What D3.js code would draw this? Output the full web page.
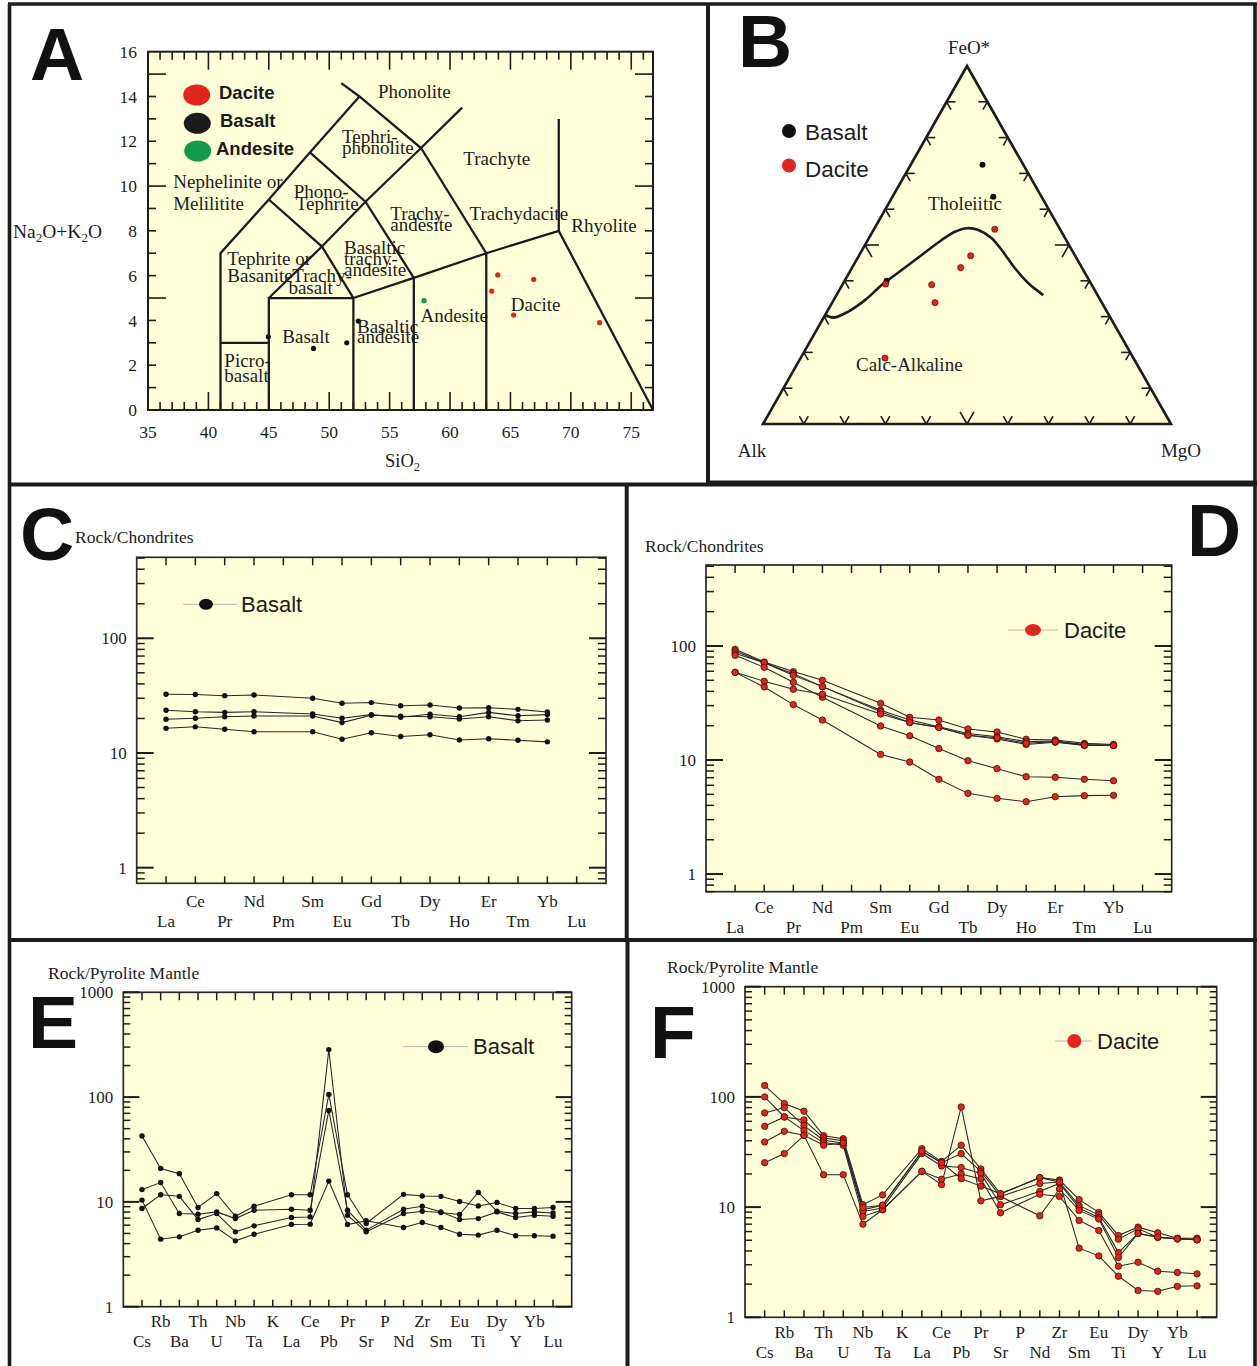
<!DOCTYPE html>
<html><head><meta charset="utf-8">
<script src="https://cdn.jsdelivr.net/npm/d3@7"></script>
<style>body{margin:0;background:#fff}svg{display:block}</style>
</head><body>
<svg id="c" width="1257" height="1366"></svg>
<script>
// ---------------- DATA ----------------
// Panel A: TAS (SiO2, Na2O+K2O)
const tasDacite = [[63.95,6.03],[66.92,5.83],[63.45,5.31],[65.26,4.24],[72.38,3.90]];
const tasBasalt = [[44.96,3.27],[48.70,2.75],[51.45,3.00],[52.41,3.97]];
const tasAndesite = [[57.85,4.88]];
const tasXTicks = [35,40,45,50,55,60,65,70,75];
const tasYTicks = [0,2,4,6,8,10,12,14,16];
const tasLines = [
  [[41,0],[41,7],[45,9.4],[48.4,11.5],[52.5,14]],
  [[51.0,14.6],[52.5,14],[57.6,11.7],[63,7],[63,0]],
  [[57.6,11.7],[61,13.5]],
  [[41,3],[45,3]],
  [[45,0],[45,5],[52,5],[52,0]],
  [[45,5],[49.4,7.3],[53,9.3],[57.6,11.7]],
  [[45,9.4],[49.4,7.3],[52,5]],
  [[48.4,11.5],[53,9.3],[57,5.9]],
  [[52,5],[57,5.9],[63,7],[69,8],[76.8,0]],
  [[57,5.9],[57,0]],
  [[69,8],[69,13]]
];
const tasFieldNames = [
  ["Phonolite",54.03,14.24],["Tephri-",51.06,12.20],["phonolite",51.06,11.74],
  ["Trachyte",61.10,11.25],["Nephelinite or",37.10,10.22],["Melilitite",37.08,9.25],
  ["Phono-",47.06,9.75],["Tephrite",47.23,9.25],["Trachy-",55.05,8.79],["andesite",55.05,8.30],
  ["Trachydacite",61.62,8.79],["Rhyolite",70.03,8.26],["Basaltic",51.22,7.28],
  ["trachy-",51.22,6.79],["andesite",51.22,6.29],["Tephrite or",41.57,6.79],["Basanite",41.57,6.03],
  ["Trachy-",46.95,6.03],["basalt",46.62,5.49],["Dacite",65.03,4.73],["Andesite",57.55,4.24],
  ["Basaltic",52.30,3.75],["andesite",52.30,3.30],["Basalt",46.12,3.27],["Picro-",41.32,2.23],["basalt",41.32,1.56]
];
// Panel B: AFM (Alk, FeO*, MgO) in %
const afmBasalt = [[10.0,72.4,17.6],[11.8,63.5,24.7],[49.7,40.0,10.3]];
const afmDacite = [[16.0,54.4,29.6],[25.6,47.0,27.4],[29.7,43.7,26.6],[39.2,38.9,21.9],[40.9,33.9,25.2],[50.4,39.1,10.5],[60.9,18.4,20.7]];
const afmBoundary = [[69.4,30.6,0],[68.0,29.7,2.3],[63.4,31.4,5.2],[57.7,34.6,7.7],[51.5,38.8,9.7],[44.5,43.0,12.5],[37.5,47.2,15.3],[30.5,51.4,18.1],[26.1,53.7,20.2],[22.7,54.7,22.6],[20.1,54.2,25.7],[18.0,51.9,30.1],[17.2,48.6,34.2],[16.5,43.5,40.0],[15.3,39.3,45.4],[13.3,36.0,50.7]];
// Panels C, D: chondrite-normalised REE
const reeCats = ['La','Ce','Pr','Nd','Pm','Sm','Eu','Gd','Tb','Dy','Ho','Er','Tm','Yb','Lu'];
const basaltREE1 = [32.5,32.3,31.6,32.0,null,30.0,27.1,27.5,25.8,26.2,24.7,24.8,24.0,22.8,null];
const basaltREE2 = [23.6,22.9,22.6,22.9,null,21.9,20.1,21.6,20.5,21.8,20.7,22.6,21.1,21.6,null];
const basaltREE3 = [19.7,20.1,20.7,21.0,null,21.0,18.4,21.3,20.9,20.7,19.8,20.7,19.1,19.4,null];
const basaltREE4 = [16.4,16.9,16.1,15.3,null,15.3,13.2,15.0,13.9,14.4,13.0,13.3,12.9,12.5,null];
const daciteREE1 = [93.5,72.4,59.6,50.0,null,31.4,23.7,22.4,18.7,17.6,15.2,15.0,14.0,13.7,null];
const daciteREE2 = [90.4,71.4,57.2,44.0,null,27.3,22.4,19.6,17.1,16.0,14.5,14.7,13.7,13.5,null];
const daciteREE3 = [86.2,71.4,55.3,44.0,null,26.5,21.3,19.3,16.5,15.3,13.7,14.3,13.4,13.4,null];
const daciteREE4 = [82.8,65.0,48.0,35.5,null,19.9,16.3,12.6,9.87,8.4,7.14,7.05,6.77,6.59,null];
const daciteREE5 = [58.7,49.0,41.7,37.7,null,25.3,21.3,19.3,16.5,15.7,14.0,14.5,13.5,13.4,null];
const daciteREE6 = [58.7,43.7,30.6,22.4,null,11.2,9.6,6.77,5.10,4.61,4.31,4.77,4.87,4.90,null];
// Panels E, F: pyrolite-mantle normalised spidergrams
const spiderCats = ['Cs','Rb','Ba','Th','U','Nb','Ta','K','La','Ce','Pb','Pr','Sr','P','Nd','Zr','Sm','Eu','Ti','Dy','Y','Yb','Lu'];
const basaltPM1 = [42.5,20.8,18.6,8.84,12.0,7.30,9.10,null,11.7,11.7,106,11.7,6.22,null,11.8,11.4,11.3,10.1,9.16,9.86,8.65,8.65,8.84];
const basaltPM2 = [13.1,15.3,7.74,7.63,8.03,6.93,8.33,null,8.51,8.33,74.6,8.33,5.37,null,8.51,9.10,8.03,6.79,6.93,8.03,7.09,7.46,7.30];
const basaltPM3 = [8.65,11.7,11.3,6.79,7.74,5.18,5.91,null,7.09,7.19,284,7.46,5.18,null,7.74,8.15,7.91,7.57,12.3,8.15,7.74,8.03,7.85];
const basaltPM4 = [10.4,4.41,4.64,5.37,5.65,4.25,4.92,null,6.08,6.13,15.8,6.08,6.60,null,5.70,6.36,5.70,4.92,4.82,5.37,4.75,4.75,4.71];
const dacitePM1 = [127,87.0,74.1,44.5,41.8,10.5,12.9,null,33.9,26.0,36.4,22.2,13.2,null,18.5,17.6,11.7,8.95,5.52,6.58,5.85,5.22,5.22];
const dacitePM2 = [100,65.8,61.8,42.4,40.1,9.46,10.4,null,32.1,25.3,30.6,21.1,12.5,null,16.4,16.9,10.3,8.51,5.12,6.35,5.33,5.15,5.05];
const dacitePM3 = [71.6,80.0,54.9,40.4,38.2,9.14,9.79,null,30.6,23.6,22.9,20.2,10.5,null,13.9,16.4,9.79,8.06,3.87,5.77,5.33,5.15,5.05];
const dacitePM4 = [54.1,65.8,49.4,38.5,36.4,8.23,9.46,null,21.1,16.0,81.1,11.4,12.5,null,8.34,14.6,9.33,7.79,3.49,5.77,5.33,5.15,5.05];
const dacitePM5 = [39.0,48.7,44.8,19.7,19.7,7.00,9.46,null,21.1,17.9,20.0,18.0,8.88,null,13.1,12.5,7.57,6.14,2.91,3.16,2.62,2.55,2.48];
const dacitePM6 = [25.3,30.6,44.8,36.4,38.2,9.93,10.4,null,32.1,25.3,18.1,15.5,13.2,null,18.5,16.9,4.24,3.61,2.36,1.75,1.72,1.91,1.93];

// ---------------- DRAWING ----------------
const svg = d3.select('#c');
const SERIF = '"Liberation Serif","Times New Roman",serif';
const SANS = '"Liberation Sans",Arial,sans-serif';
const INK = '#1c1c1c';
const BG = '#FFFFDA';
const RED = '#e1251d';
const GREEN = '#13994a';

function txt(g, x, yc, s, fs, o = {}) {
  return g.append('text').attr('x', x).attr('y', yc + fs * 0.35).text(s)
    .attr('font-family', o.ff || SERIF).attr('font-size', fs)
    .attr('text-anchor', o.anchor || 'start').attr('font-weight', o.fw || 'normal')
    .attr('fill', o.fill || INK);
}
function ln(g, x1, y1, x2, y2, w = 1.5, c = INK) {
  return g.append('line').attr('x1', x1).attr('y1', y1).attr('x2', x2).attr('y2', y2)
    .attr('stroke', c).attr('stroke-width', w);
}

// ===== Panel A =====
(function () {
  const g = svg.append('g');
  const x = d3.scaleLinear().domain([35, 76.8]).range([148, 653]);
  const y = d3.scaleLinear().domain([0, 16]).range([410, 51.7]);
  const [x0, x1] = x.range(), [y1, y0] = y.range();
  g.append('rect').attr('x', x0).attr('y', y0).attr('width', x1 - x0).attr('height', y1 - y0)
    .attr('fill', BG);
  for (let v = 36; v <= 76; v++) {
    const L = v % 5 === 0 ? 18 : 8;
    ln(g, x(v), y0, x(v), y0 + L, 1.6); ln(g, x(v), y1, x(v), y1 - L, 1.6);
  }
  for (let v = 1; v <= 15; v++) {
    const L = v % 5 === 0 ? 18 : 8;
    ln(g, x0, y(v), x0 + L, y(v), 1.6); ln(g, x1, y(v), x1 - L, y(v), 1.6);
  }
  const line = d3.line().x(d => x(d[0])).y(d => y(d[1]));
  tasLines.forEach(l => g.append('path').attr('d', line(l)).attr('fill', 'none')
    .attr('stroke', INK).attr('stroke-width', 2.3).attr('stroke-linejoin', 'miter'));
  g.append('rect').attr('x', x0).attr('y', y0).attr('width', x1 - x0).attr('height', y1 - y0)
    .attr('fill', 'none').attr('stroke', INK).attr('stroke-width', 2);
  tasFieldNames.forEach(([s, a, b]) => txt(g, x(a), y(b), s, 19));
  tasXTicks.forEach(v => txt(g, x(v), 432, String(v), 17.5, { anchor: 'middle' }));
  tasYTicks.forEach(v => txt(g, 137, y(v), String(v), 17.5, { anchor: 'end' }));
  // axis titles
  const t1 = g.append('text').attr('x', 13).attr('y', 238).attr('font-family', SERIF)
    .attr('font-size', 19.5).attr('fill', INK);
  t1.append('tspan').text('Na');
  t1.append('tspan').text('2').attr('font-size', 13).attr('dy', 4);
  t1.append('tspan').text('O+K').attr('dy', -4);
  t1.append('tspan').text('2').attr('font-size', 13).attr('dy', 4);
  t1.append('tspan').text('O').attr('dy', -4);
  const t2 = g.append('text').attr('x', 385).attr('y', 467).attr('font-family', SERIF)
    .attr('font-size', 18.5).attr('fill', INK);
  t2.append('tspan').text('SiO');
  t2.append('tspan').text('2').attr('font-size', 12.5).attr('dy', 4);
  // points
  const pts = (arr, col) => g.selectAll(null).data(arr).enter().append('circle')
    .attr('cx', d => x(d[0])).attr('cy', d => y(d[1])).attr('r', 2.6).attr('fill', col);
  pts(tasBasalt, '#111'); pts(tasAndesite, GREEN); pts(tasDacite, RED);
  // legend
  const leg = [['Dacite', RED, 196.7, 95, 219], ['Basalt', '#1a1a1a', 197.3, 123.3, 220], ['Andesite', GREEN, 197.7, 151, 216]];
  leg.forEach(([s, c, cx, cy, tx]) => {
    g.append('ellipse').attr('cx', cx).attr('cy', cy).attr('rx', 13.5).attr('ry', 10.5).attr('fill', c);
    txt(g, tx, cy - 2.5, s, 18.5, { ff: SANS, fw: 'bold' });
  });
})();

// ===== Panel B =====
(function () {
  const g = svg.append('g');
  const T = [967, 66], BL = [763, 424], BR = [1171, 424];
  const P = d => [(d[0] * BL[0] + d[1] * T[0] + d[2] * BR[0]) / 100, (d[0] * BL[1] + d[1] * T[1] + d[2] * BR[1]) / 100];
  g.append('path').attr('d', d3.line()([T, BL, BR]) + 'Z').attr('fill', BG)
    .attr('stroke', INK).attr('stroke-width', 2.6).attr('stroke-linejoin', 'miter');
  // tick chevrons at 10% steps
  const norm = (v) => { const l = Math.hypot(v[0], v[1]); return [v[0] / l, v[1] / l]; };
  const dR = norm([BR[0] - T[0], BR[1] - T[1]]);
  const dL = norm([BL[0] - T[0], BL[1] - T[1]]);
  const edges = [
    { a: T, b: BL, dirs: [[1, 0], dR] },
    { a: T, b: BR, dirs: [[-1, 0], dL] },
    { a: BL, b: BR, dirs: [[-dL[0], -dL[1]], [-dR[0], -dR[1]]] }
  ];
  edges.forEach(e => {
    for (let k = 1; k <= 9; k++) {
      const px = e.a[0] + (e.b[0] - e.a[0]) * k / 10, py = e.a[1] + (e.b[1] - e.a[1]) * k / 10;
      const L = k === 5 ? 14 : 9;
      e.dirs.forEach(dv => ln(g, px, py, px + dv[0] * L, py + dv[1] * L, 1.6));
    }
  });
  g.append('path').attr('d', d3.line().curve(d3.curveCatmullRom)(afmBoundary.map(P)))
    .attr('fill', 'none').attr('stroke', INK).attr('stroke-width', 2.6);
  g.selectAll(null).data(afmBasalt).enter().append('circle')
    .attr('cx', d => P(d)[0]).attr('cy', d => P(d)[1]).attr('r', 3).attr('fill', '#111');
  g.selectAll(null).data(afmDacite).enter().append('circle')
    .attr('cx', d => P(d)[0]).attr('cy', d => P(d)[1]).attr('r', 3.1).attr('fill', RED)
    .attr('stroke', '#5a0a06').attr('stroke-width', 0.7);
  txt(g, 969, 47, 'FeO*', 19, { anchor: 'middle' });
  txt(g, 752, 450, 'Alk', 19, { anchor: 'middle' });
  txt(g, 1181, 450, 'MgO', 19, { anchor: 'middle' });
  txt(g, 928, 203, 'Tholeiitic', 19);
  txt(g, 856, 364, 'Calc-Alkaline', 19);
  g.append('circle').attr('cx', 789).attr('cy', 131).attr('r', 7).attr('fill', '#111');
  txt(g, 805, 132, 'Basalt', 22.5, { ff: SANS });
  g.append('circle').attr('cx', 789).attr('cy', 165.5).attr('r', 7).attr('fill', RED);
  txt(g, 805, 169, 'Dacite', 22.5, { ff: SANS });
})();

// ===== Spider / REE panels =====
function spider(o) {
  const g = svg.append('g');
  const x = d3.scaleLinear().domain([-1, o.cats.length]).range([o.x0, o.x1]);
  const y = d3.scaleLog().domain(o.domain).range([o.y1, o.y0]);
  g.append('rect').attr('x', o.x0).attr('y', o.y0).attr('width', o.x1 - o.x0).attr('height', o.y1 - o.y0)
    .attr('fill', BG).attr('stroke', '#2a2a2a').attr('stroke-width', 1.7);
  const [lo, hi] = o.domain;
  for (let e = Math.floor(Math.log10(lo)); e <= Math.ceil(Math.log10(hi)); e++) {
    for (let m = 1; m <= 9; m++) {
      const v = m * Math.pow(10, e);
      if (v < lo || v > hi) continue;
      const L = m === 1 ? o.major : o.minor, w = m === 1 ? 2 : 1.5;
      ln(g, o.x0, y(v), o.x0 + L, y(v), w); ln(g, o.x1, y(v), o.x1 - L, y(v), w);
    }
  }
  o.yLabels.forEach(v => txt(g, o.x0 - 10, y(v), String(v), 17, { anchor: 'end' }));
  o.cats.forEach((c, i) => {
    ln(g, x(i), o.y0, x(i), o.y0 + 8, 1.5); ln(g, x(i), o.y1, x(i), o.y1 - 7, 1.5);
    txt(g, x(i), i % 2 ? o.row1 : o.row2, c, 17, { anchor: 'middle' });
  });
  txt(g, o.title[1], o.title[2], o.title[0], 17.5);
  const line = d3.line().x(d => x(d[0])).y(d => y(d[1]));
  const pts = o.series.map(s => s.map((v, i) => [i, v]).filter(d => d[1] != null));
  pts.forEach(p => g.append('path').attr('d', line(p)).attr('fill', 'none')
    .attr('stroke', '#262626').attr('stroke-width', 1.05));
  pts.forEach(p => g.selectAll(null).data(p).enter().append('circle')
    .attr('cx', d => x(d[0])).attr('cy', d => y(d[1])).attr('r', o.r).attr('fill', o.color)
    .attr('stroke', o.stroke || 'none').attr('stroke-width', 0.8));
  const L = o.legend;
  ln(g, L.l0, L.y, L.l1, L.y, 1, '#b8b8b0');
  g.append('ellipse').attr('cx', L.cx).attr('cy', L.y).attr('rx', L.rx).attr('ry', L.ry).attr('fill', o.color);
  txt(g, L.tx, L.y, L.label, 22, { ff: SANS });
}

spider({ cats: reeCats, x0: 136.7, x1: 606, y0: 557.3, y1: 883.3, domain: [0.731, 508],
  series: [basaltREE1, basaltREE2, basaltREE3, basaltREE4], color: '#111', r: 2.7,
  major: 17, minor: 8, yLabels: [1, 10, 100], row1: 901, row2: 921,
  title: ['Rock/Chondrites', 75, 537],
  legend: { l0: 183, l1: 237, y: 604.3, cx: 206, rx: 7, ry: 5.5, tx: 241, label: 'Basalt' } });

spider({ cats: reeCats, x0: 706, x1: 1171.7, y0: 565, y1: 891.7, domain: [0.70, 513],
  series: [daciteREE1, daciteREE2, daciteREE3, daciteREE4, daciteREE5, daciteREE6], color: RED, stroke: '#4a0805', r: 3.2,
  major: 17, minor: 8, yLabels: [1, 10, 100], row1: 907, row2: 927,
  title: ['Rock/Chondrites', 645, 546],
  legend: { l0: 1008, l1: 1058, y: 630, cx: 1033, rx: 8, ry: 6, tx: 1064, label: 'Dacite' } });

spider({ cats: spiderCats, x0: 123.3, x1: 571.7, y0: 992.3, y1: 1306.7, domain: [1, 1000],
  series: [basaltPM1, basaltPM2, basaltPM3, basaltPM4], color: '#111', r: 2.7,
  major: 16, minor: 7, yLabels: [1, 10, 100, 1000], row1: 1321, row2: 1341,
  title: ['Rock/Pyrolite Mantle', 48, 973],
  legend: { l0: 403, l1: 468, y: 1046.7, cx: 436, rx: 8, ry: 6.5, tx: 473, label: 'Basalt' } });

spider({ cats: spiderCats, x0: 745, x1: 1216.7, y0: 986.7, y1: 1317.3, domain: [1, 1000],
  series: [dacitePM1, dacitePM2, dacitePM3, dacitePM4, dacitePM5, dacitePM6], color: RED, stroke: '#4a0805', r: 3.2,
  major: 16, minor: 7, yLabels: [1, 10, 100, 1000], row1: 1332, row2: 1352,
  title: ['Rock/Pyrolite Mantle', 667, 967],
  legend: { l0: 1055, l1: 1092, y: 1041, cx: 1074.3, rx: 7, ry: 7, tx: 1097, label: 'Dacite' } });

// ===== Panel frames and letters =====
(function () {
  const g = svg.append('g');
  const W = 3.6;
  ln(g, 8, 4, 1257, 4, W); ln(g, 9.5, 4, 9.5, 1366, W); ln(g, 1255, 4, 1255, 1366, W);
  ln(g, 8, 484.5, 1257, 484.5, 4); ln(g, 710, 482, 1257, 482, 3);
  ln(g, 708, 4, 708, 485, 4);
  ln(g, 626.7, 484.5, 626.7, 940, 4);
  ln(g, 8, 940, 1257, 940, 4);
  ln(g, 627.5, 940, 627.5, 1366, 4);
  const L = [['A', 30, 80], ['B', 738, 67], ['C', 20, 560], ['D', 1187, 556], ['E', 28, 1048], ['F', 650, 1058]];
  L.forEach(([s, x, y]) => g.append('text').attr('x', x).attr('y', y).text(s)
    .attr('font-family', SANS).attr('font-weight', 'bold').attr('font-size', 75).attr('fill', '#111'));
})();
</script>
</body></html>
